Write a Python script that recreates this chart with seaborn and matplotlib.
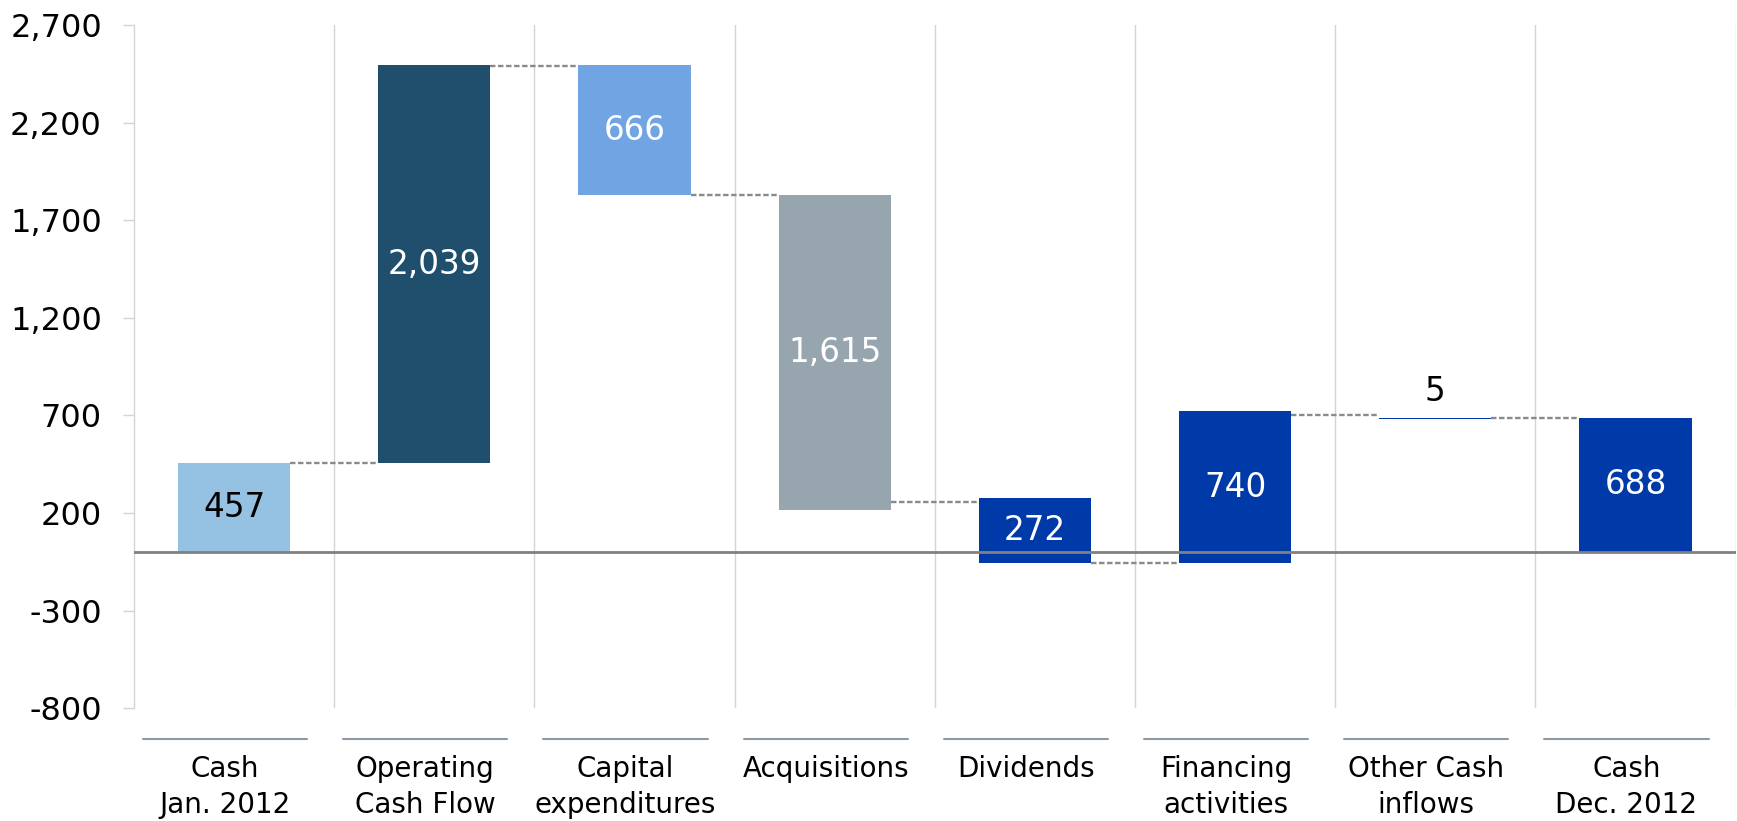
import numpy as np
import pandas as pd
import matplotlib
matplotlib.use("Agg")
import matplotlib.pyplot as plt
import matplotlib.transforms as mtransforms
import seaborn as sns

#Data
categories = ["Cash\nJan. 2012", "Operating\nCash Flow", "Capital\nexpenditures", "Acquisitions",
              "Dividends", "Financing\nactivities", "Other Cash\ninflows", "Cash\nDec. 2012"]
value_labels = ["457", "2,039", "666", "1,615", "272", "740", "5", "688"]
bar_bottom = [0, 457, 1830, 215, -58, -58, 683, 0]
bar_top = [457, 2496, 2496, 1830, 277, 722, 688, 688]
connector_level = [457, 2490, 1830, 256, -58, 705, 688]
bar_colors = ["#95C1E3", "#204F6E", "#70A4E2", "#97A5AE",
              "#003AA8", "#003AA8", "#003AA8", "#003AA8"]
label_colors = ["black", "white", "white", "white", "white", "white", "black", "white"]
yticks = [-800, -300, 200, 700, 1200, 1700, 2200, 2700]

sns.set_style("white")
plt.rcParams["font.family"] = ["DejaVu Sans"]
plt.rcParams["text.color"] = "black"
plt.rcParams["ytick.labelcolor"] = "black"

df = pd.DataFrame({"category": categories,
                   "height": np.array(bar_top) - np.array(bar_bottom),
                   "bottom": bar_bottom})

fig = plt.figure(figsize=(17.37, 8.21), dpi=100)
ax = fig.add_axes([0.0771, 0.1376, 0.9221, 0.8314])

#Waterfall bars
sns.barplot(data=df, x="category", y="height", bottom=df["bottom"].values,
            color=bar_colors[0], saturation=1, width=0.56, linewidth=0, ax=ax)
for patch, c in zip(ax.patches, bar_colors):
    patch.set_facecolor(c)
    patch.set_edgecolor("none")

ax.set_xlim(-0.5, 7.5)
ax.set_ylim(-800, 2700)

#Separators between categories
for i in range(len(categories)):
    ax.axvline(i + 0.5, color="#D4D4D4", lw=1, zorder=0)
ax.axhline(0, color="#808080", lw=2, zorder=3)

#Dashed connectors
for i, lev in enumerate(connector_level):
    ax.plot([i + 0.28, i + 1 - 0.28], [lev, lev], color="#8A8A8A", lw=1.7,
            linestyle=(0, (2.3, 1.1)), zorder=2)

#Value labels
for i, (lab, c) in enumerate(zip(value_labels, label_colors)):
    if lab == "5":
        ax.annotate(lab, (i, bar_top[i]), xytext=(0, 19), textcoords="offset points",
                    ha="center", va="center", fontsize=23.5, color=c)
    else:
        ax.text(i, (bar_top[i] + bar_bottom[i]) / 2, lab, ha="center", va="center",
                fontsize=23.5, color=c, zorder=4)

#Category labels with lines above them
trans = mtransforms.blended_transform_factory(ax.transData, ax.transAxes)
for i, cat in enumerate(categories):
    xc = i - 0.045
    ax.plot([xc - 0.41, xc + 0.41], [-0.046, -0.046], color="#8D9AA6", lw=1.5,
            transform=trans, clip_on=False)
    ax.text(xc, -0.069, cat, ha="center", va="top", fontsize=20, linespacing=1.35,
            transform=trans)

ax.set_xticks(range(len(categories)))
ax.set_xticklabels([])
ax.set_xlabel("")
ax.set_ylabel("")
ax.set_yticks(yticks)
ax.set_yticklabels([f"{v:,}" for v in yticks], fontsize=23)
ax.tick_params(axis="y", length=8, width=1, color="#D4D4D4", pad=15, left=True)
ax.tick_params(axis="x", length=0)

for s in ["top", "right", "bottom"]:
    ax.spines[s].set_visible(False)
ax.spines["left"].set_color("#D4D4D4")
ax.spines["left"].set_linewidth(1)

fig.savefig("out.png", dpi=100)
